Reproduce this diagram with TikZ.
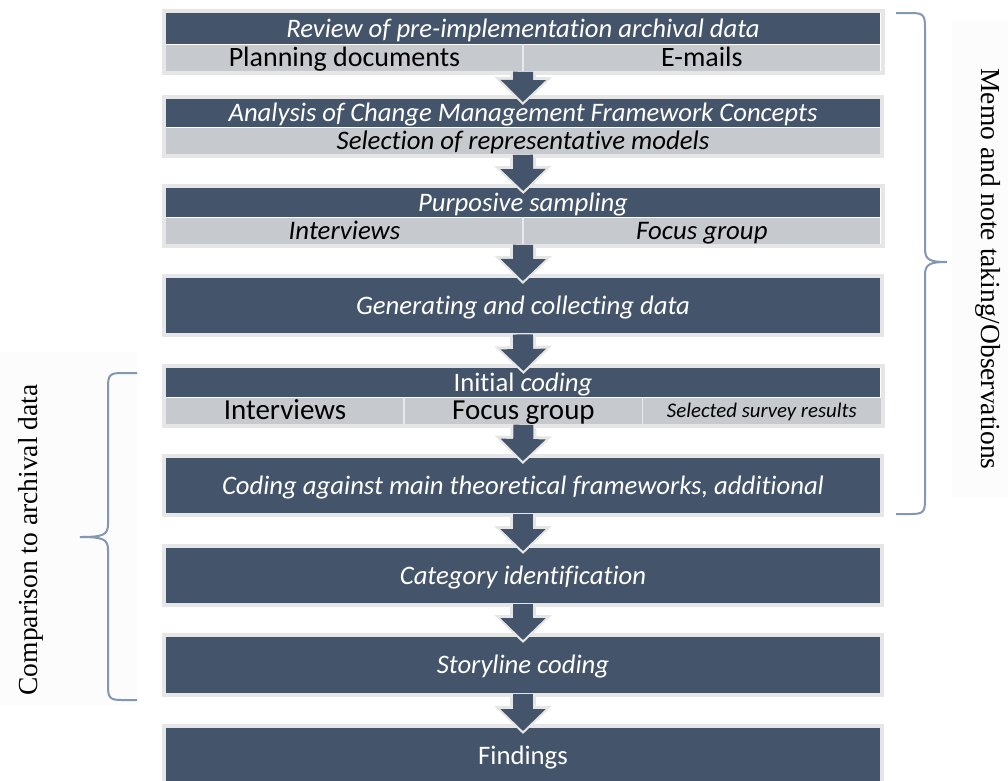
\documentclass[tikz,border=0pt]{standalone}
\usepackage{fontspec}
\setmainfont{Carlito}[Ligatures=NoCommon]
\newfontfamily\sidefont{Liberation Serif}
\usetikzlibrary{positioning,fit,arrows.meta}
\definecolor{bandblue}{HTML}{44546A}
\definecolor{bandgrey}{HTML}{C6C9CD}
\definecolor{framegrey}{HTML}{E6E6E6}
\definecolor{bracecol}{HTML}{8497B0}
\definecolor{panelgrey}{HTML}{FCFCFC}
\tikzset{
  % dark title band of a step
  head/.style = {fill=bandblue, text=white, minimum width=714pt, inner sep=0pt,
    font=\fontsize{26.7}{30}\selectfont\itshape, text height=19.5pt, text depth=2.5pt},
  % light band under a title
  sub/.style = {fill=bandgrey, text=black, inner sep=0pt, minimum height=26pt},
  subup/.style = {font=\fontsize{28}{32}\selectfont, text height=21pt, text depth=3pt},
  subit/.style = {font=\fontsize{26.8}{30}\selectfont\itshape, text height=19.5pt, text depth=2.5pt},
  divider/.style = {draw=white!60!bandgrey, line width=1.5pt},
  boxframe/.style = {draw=framegrey, line width=4pt, inner sep=2pt},
  flowarrow/.style = {bandblue, line width=20pt, -{Triangle[width=44pt,length=22pt]},
    shorten <=-3pt, shorten >=-7pt,
    preaction={draw=framegrey, line width=26pt, -{Triangle[width=56pt,length=28pt]},
      shorten <=-3pt, shorten >=-10pt}},
  brace/.style = {draw=bracecol, line width=2pt},
  sidenote/.style = {font=\sidefont\fontsize{27.5}{30}\selectfont, inner sep=0pt},
  panel/.style = {fill=panelgrey}
}
\begin{document}
\begin{tikzpicture}[x=1pt,y=-1pt]
  \useasboundingbox (0,0) rectangle (1008,780);
  % faint panels behind the side notes
  \fill[panel] (952,20) rectangle (1008,497);
  \fill[panel] (0,352) rectangle (137,705);
  % Step 1
  \node[head, minimum height=31pt, anchor=north] (review) at (523,13) {Review of pre-implementation archival data};
  \node[sub, subup, minimum width=357pt, below right=0pt and 0pt of review.south west] (planning) {Planning documents};
  \node[sub, subup, minimum width=357pt, right=0pt of planning] (emails) {E-mails};
  \draw[divider] (planning.north east) -- (planning.south east);
  \node[boxframe, fit=(review)(planning)(emails)] (box1) {};
  % Step 2
  \node[head, minimum height=28pt, anchor=north] (analysis) at (523,99) {Analysis of Change Management Framework Concepts};
  \node[sub, subit, minimum width=714pt, below=0pt of analysis] (selection) {Selection of representative models};
  \node[boxframe, fit=(analysis)(selection)] (box2) {};
  % Step 3
  \node[head, minimum height=29pt, anchor=north] (sampling) at (523,188) {Purposive sampling};
  \node[sub, subit, minimum width=357pt, below right=0pt and 0pt of sampling.south west] (interviewsA) {Interviews};
  \node[sub, subit, minimum width=357pt, right=0pt of interviewsA] (focusA) {Focus group};
  \draw[divider] (interviewsA.north east) -- (interviewsA.south east);
  \node[boxframe, fit=(sampling)(interviewsA)(focusA)] (box3) {};
  % Step 4
  \node[head, minimum height=55pt, anchor=north] (generating) at (523,278) {Generating and collecting data};
  \node[boxframe, fit=(generating)] (box4) {};
  % Step 5
  \node[head, minimum height=29pt, anchor=north, font=\fontsize{26.7}{30}\selectfont\upshape] (initial) at (523,368) {Initial \textit{coding}};
  \node[sub, font=\fontsize{29}{32}\selectfont, text height=21pt, text depth=3pt, minimum width=238pt,
    below right=0pt and 0pt of initial.south west] (interviewsB) {Interviews};
  \node[sub, font=\fontsize{29}{32}\selectfont, text height=21pt, text depth=3pt, minimum width=238pt,
    right=0pt of interviewsB] (focusB) {Focus group};
  \node[sub, font=\fontsize{20.8}{24}\selectfont\itshape, text height=15pt, text depth=2pt, minimum width=238pt,
    right=0pt of focusB] (survey) {Selected survey results};
  \draw[divider] (interviewsB.north east) -- (interviewsB.south east);
  \draw[divider] (focusB.north east) -- (focusB.south east);
  \node[boxframe, fit=(initial)(interviewsB)(survey)] (box5) {};
  % Steps 6 to 9
  \node[head, minimum height=55pt, anchor=north] (frameworks) at (523,458) {Coding against main theoretical frameworks, additional};
  \node[boxframe, fit=(frameworks)] (box6) {};
  \node[head, minimum height=55pt, anchor=north] (category) at (523,548) {Category identification};
  \node[boxframe, fit=(category)] (box7) {};
  \node[head, minimum height=56pt, anchor=north] (storyline) at (523,637) {Storyline coding};
  \node[boxframe, fit=(storyline)] (box8) {};
  \node[head, minimum height=56pt, anchor=north, font=\fontsize{26.7}{30}\selectfont\upshape] (findings) at (523,728) {Findings};
  \node[boxframe, fit=(findings)] (box9) {};
  % Arrows between the steps
  \foreach \from/\to in {box1/box2, box2/box3, box3/box4, box4/box5, box5/box6, box6/box7, box7/box8, box8/box9}
    \draw[flowarrow] (\from.south) -- (\to.north);
  % Right brace
  \draw[brace] (896,13) -- (911,13) .. controls (923,13) and (925,15) .. (925,27) -- (925,249)
    .. controls (925,260) and (930,262) .. (947,262) .. controls (930,262) and (925,264) .. (925,275)
    -- (925,500) .. controls (925,512) and (923,514) .. (911,514) -- (896,514);
  % Left brace
  \draw[brace] (137,373) -- (122,373) .. controls (110,373) and (108,375) .. (108,387) -- (108,524)
    .. controls (108,535) and (103,537) .. (80,537) .. controls (103,537) and (108,539) .. (108,550)
    -- (108,686) .. controls (108,698) and (110,700) .. (122,700) -- (137,700);
  % Side notes
  \node[sidenote, rotate=-90] (memo) at (988,269) {Memo and note taking/Observations};
  \node[sidenote, rotate=90] (comparison) at (31,540) {Comparison to archival data};
\end{tikzpicture}
\end{document}
